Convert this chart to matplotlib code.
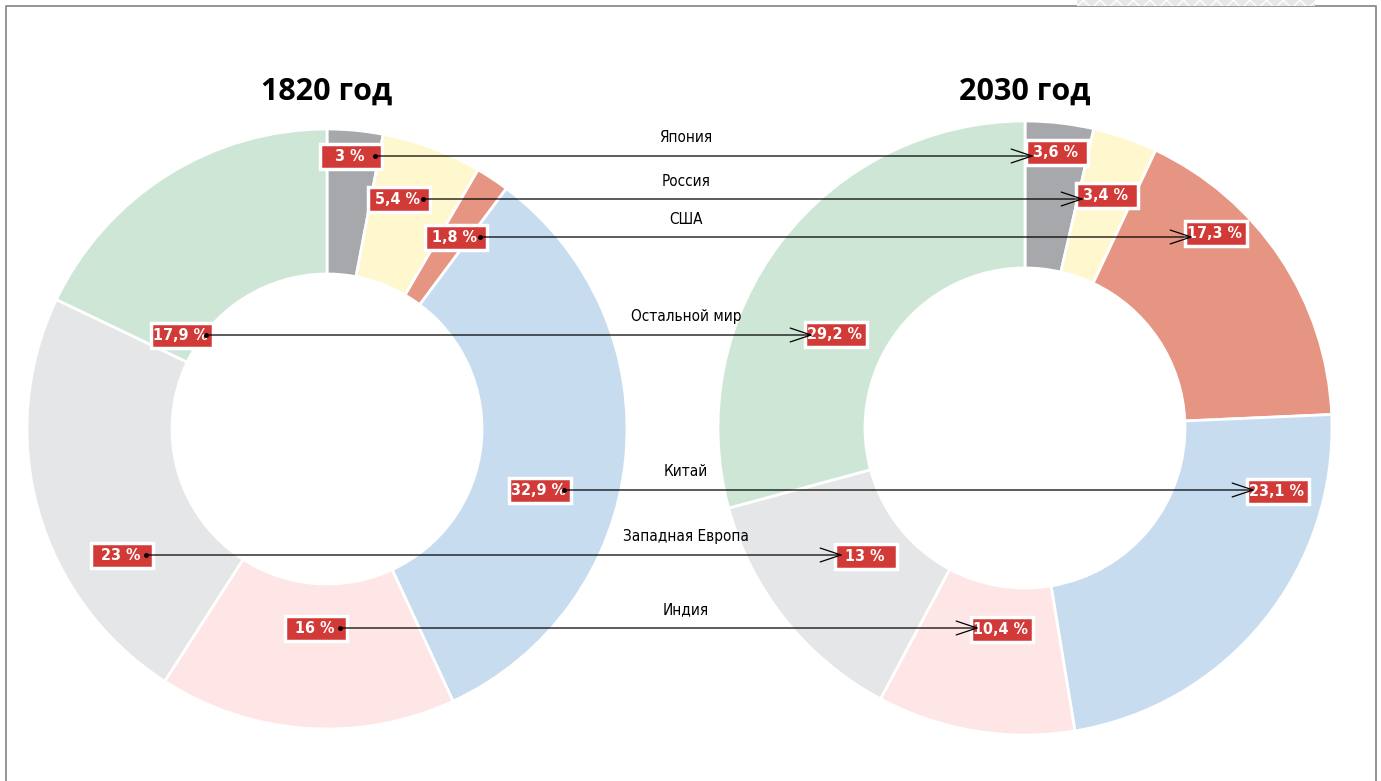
import matplotlib.pyplot as plt
from matplotlib.patches import Rectangle

W, H = 1381, 781

regions = ['Япония', 'Россия', 'США', 'Китай', 'Индия',
           'Западная Европа', 'Остальной мир']
share_1820 = [3, 5.4, 1.8, 32.9, 16, 23, 17.9]
share_2030 = [3.6, 3.4, 17.3, 23.1, 10.4, 13, 29.2]
years = ['1820 год', '2030 год']

colors = ['#a7a8ab', '#fff8cf', '#e59582', '#c8dcf0',
          '#fde6e5', '#e5e6e8', '#cde6d6']

# label boxes (pixel coords from top-left): left box centre, right box centre
left_box = {'Япония': (351, 156), 'Россия': (399, 199), 'США': (456, 237),
            'Остальной мир': (182, 335), 'Китай': (540, 490),
            'Западная Европа': (122, 555), 'Индия': (316, 628)}
right_box = {'Япония': (1057, 152), 'Россия': (1107, 195),
             'США': (1216, 233), 'Остальной мир': (836, 334),
             'Китай': (1278, 491), 'Западная Европа': (866, 556),
             'Индия': (1002, 629)}
arrow_y = {'Япония': 156, 'Россия': 199, 'США': 237, 'Остальной мир': 335,
           'Китай': 490, 'Западная Европа': 555, 'Индия': 628}

BOX_W, BOX_H = 62, 25
RED = '#d13a37'


def fmt(v):
    s = f'{v:g}'.replace('.', ',')
    return s + '\u00a0%'


def Y(y):
    return H - y


def box(ax, cx, cy, value):
    ax.add_patch(Rectangle((cx - BOX_W / 2, Y(cy) - BOX_H / 2), BOX_W, BOX_H,
                           facecolor=RED, edgecolor='white', lw=2.5,
                           zorder=5))
    ax.text(cx - 1, Y(cy) - 0.5, fmt(value), color='white', fontsize=11.5,
            fontweight='bold', family='DejaVu Sans', fontstretch='condensed',
            ha='center', va='center', zorder=6)


fig = plt.figure(figsize=(W / 100, H / 100), dpi=100)
ax = fig.add_axes([0, 0, 1, 1])

ax.pie(share_1820, colors=colors, radius=300, center=(327, Y(429)),
       startangle=90, counterclock=False,
       wedgeprops=dict(width=145, edgecolor='white', linewidth=2))
ax.pie(share_2030, colors=colors, radius=307, center=(1025, Y(428)),
       startangle=90, counterclock=False,
       wedgeprops=dict(width=147, edgecolor='white', linewidth=2))

ax.text(327, Y(92), years[0], fontsize=22, fontweight='bold',
        family='Open Sans', ha='center', va='center')
ax.text(1025, Y(92), years[1], fontsize=22, fontweight='bold',
        family='Open Sans', ha='center', va='center')

for i, name in enumerate(regions):
    lx, ly = left_box[name]
    rx, ry = right_box[name]
    y = arrow_y[name]
    box(ax, lx, ly, share_1820[i])
    box(ax, rx, ry, share_2030[i])
    x0 = lx + BOX_W / 2 - 7
    x1 = rx - BOX_W / 2 + 8
    ax.annotate('', xy=(x1, Y(y)), xytext=(x0, Y(y)),
                arrowprops=dict(arrowstyle='->,head_length=0.75,head_width=0.25',
                                color='black', lw=0.9, shrinkA=0, shrinkB=0,
                                mutation_scale=20),
                zorder=7)
    ax.plot([x0], [Y(y)], 'o', color='black', ms=2.5, zorder=7)
    ax.text(686, Y(y - 18), name, fontsize=11, family='DejaVu Sans',
            fontstretch='condensed', ha='center', va='center', zorder=7)

# frame around the graphic
ax.plot([6, 6, 1376, 1376], [0, Y(6), Y(6), 0], color='#8c8c8c', lw=1.3,
        zorder=8)
ax.add_patch(Rectangle((1077, Y(6)), 238, 6, facecolor='#e6e7e8',
                       edgecolor='white', hatch='xx', lw=0, zorder=8))

ax.set_xlim(0, W)
ax.set_ylim(0, H)
ax.set_aspect('equal')
ax.axis('off')

fig.savefig('out.png', dpi=100)
